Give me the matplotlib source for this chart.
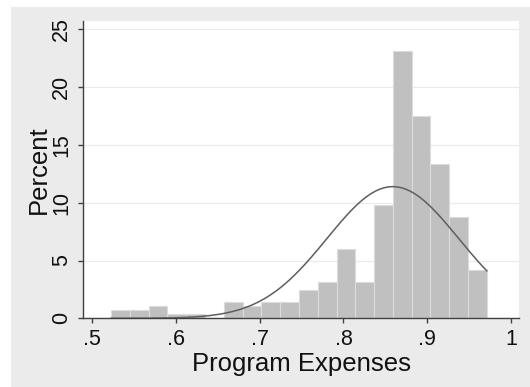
import numpy as np
import matplotlib
matplotlib.use("Agg")
import matplotlib.pyplot as plt
from matplotlib.patches import Rectangle

# Data
bin_start = 0.5224
bin_width = 0.02244
percents = [0.70, 0.70, 1.05, 0.35, 0.35, 0.0, 1.40, 1.05, 1.40, 1.40,
            2.46, 3.16, 5.96, 3.16, 9.82, 23.16, 17.54, 13.33, 8.77, 4.21]
norm_mean = 0.8589
norm_sd = 0.0786
data_min = 0.5224
data_max = 0.9712

x_ticks = [0.5, 0.6, 0.7, 0.8, 0.9, 1.0]
x_tick_labels = [".5", ".6", ".7", ".8", ".9", "1"]
y_ticks = [0, 5, 10, 15, 20, 25]
x_label = "Program Expenses"
y_label = "Percent"

plt.rcParams['font.family'] = ['Liberation Sans', 'DejaVu Sans']

fig = plt.figure(figsize=(5.30, 3.87), dpi=100)
fig.patch.set_facecolor("white")
bg = Rectangle((11/530, 0), 1 - 11/530, 1 - 7/387,
               transform=fig.transFigure, facecolor="#EBEBEB",
               edgecolor="none", zorder=-10)
fig.add_artist(bg)

ax = fig.add_axes([83/530, 1 - 318.3/387, (519 - 83)/530, (318.3 - 21)/387])
ax.set_zorder(1)
ax.set_facecolor("white")

lefts = [bin_start + i * bin_width for i in range(len(percents))]
ax.bar(lefts, percents, width=bin_width, align="edge", color="#C0C0C0",
       edgecolor="#DCDCDC", linewidth=0.8, zorder=2)

xs = np.linspace(data_min, data_max, 300)
ys = bin_width * 100 * np.exp(-0.5 * ((xs - norm_mean) / norm_sd) ** 2) / (norm_sd * np.sqrt(2 * np.pi))
ax.plot(xs, ys, color="#5E5E5E", linewidth=1.1, zorder=3)

ax.set_xlim(0.4889, 1.0096)
ax.set_ylim(0, 25.72)
ax.set_xticks(x_ticks)
ax.set_xticklabels(x_tick_labels, fontsize=15.5)
ax.set_yticks(y_ticks)
ax.set_yticklabels([str(t) for t in y_ticks], fontsize=15.5, rotation=90, va="center")
ax.grid(axis="y", color="#EAEAEA", linewidth=0.8, zorder=1)
ax.set_axisbelow(True)

for s in ["top", "right"]:
    ax.spines[s].set_visible(False)
for s in ["left", "bottom"]:
    ax.spines[s].set_color("#404040")
    ax.spines[s].set_linewidth(1.0)
ax.tick_params(axis="both", direction="out", length=3.8, width=1.0, color="#404040",
               labelcolor="#111111", pad=4)

ax.set_xlabel(x_label, fontsize=18.5, labelpad=1, color="#111111")
ax.set_ylabel(y_label, fontsize=18.5, labelpad=0, color="#111111")

fig.savefig("out.png", dpi=100, facecolor=fig.get_facecolor())
